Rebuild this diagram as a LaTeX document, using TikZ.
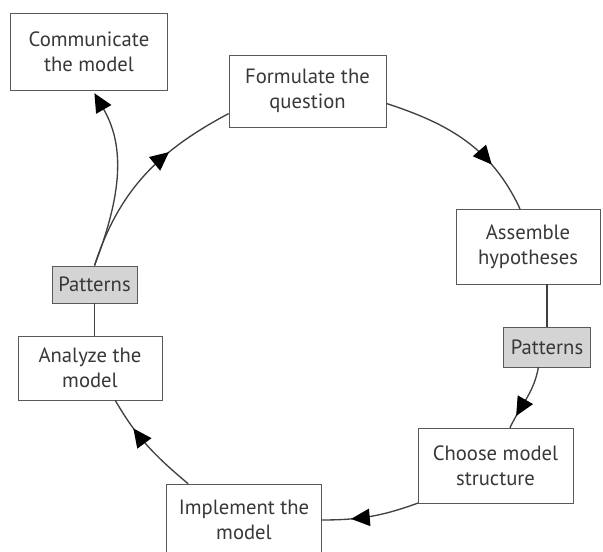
\documentclass[tikz,border=0pt]{standalone}
\usepackage{fontspec}
\setmainfont{PT Sans}
\usepackage{xcolor}
\usepackage{tikz}
\usetikzlibrary{arrows.meta,positioning,decorations.markings}

\begin{document}
\begin{tikzpicture}[
    x=0.75pt, y=0.75pt,
    box/.style={draw=black!65, minimum height=56pt, minimum width=116pt, align=center, fill=white, text=black!78, font=\fontsize{15.5}{18.75}\selectfont},
    patbox/.style={box, fill=black!17, minimum height=30pt, minimum width=65pt},
    link/.style={draw=black!75, line width=1pt},
    arrow/.style={link, decoration={markings, mark=at position #1 with {\arrow{Triangle[length=14pt, width=13pt, color=black]}}}, postaction={decorate}},
    endarrow/.style={link, -{Triangle[length=14pt, width=13pt, color=black]}, shorten >=2pt}
]
\useasboundingbox (0,0) rectangle (603,552);

\node[box, minimum width=118pt, minimum height=58pt] (comm) at (89,500) {Communicate\\the model};
\node[box, minimum width=118pt, minimum height=54pt] (form) at (307.5,461) {Formulate the\\question};
\node[box, minimum width=108pt] (assem) at (528,305.5) {Assemble\\hypotheses};
\node[patbox] (patR) at (547,205) {Patterns};
\node[box] (choose) at (495.5,86.5) {Choose model\\structure};
\node[box, minimum height=54pt] (impl) at (244,32) {Implement the\\model};
\node[box, minimum width=108pt, minimum height=48pt] (anlz) at (90,184) {Analyze the\\model};
\node[patbox, minimum width=64pt, minimum height=28pt] (patL) at (94.5,267.5) {Patterns};

\draw[arrow=0.7] (form.-9) to[out=-18, in=115] (assem.102);
\draw[link] (patR.north |- assem.south) -- (patR.north);
\draw[arrow=0.8] (patR.-113) to[out=-100, in=65] (choose.69);
\draw[arrow=0.7] (choose.south west) to[out=200, in=0] (impl.east);
\draw[arrow=0.7] (impl.147) to[out=140, in=-60] (anlz.-52);
\draw[link] (anlz.north -| patL) -- (patL.south);
\draw[arrow=0.66] (patL.north) to[out=72, in=208] (form.196);
\draw[endarrow] (patL.north) to[out=69, in=-60] (comm.-84);

\end{tikzpicture}
\end{document}
